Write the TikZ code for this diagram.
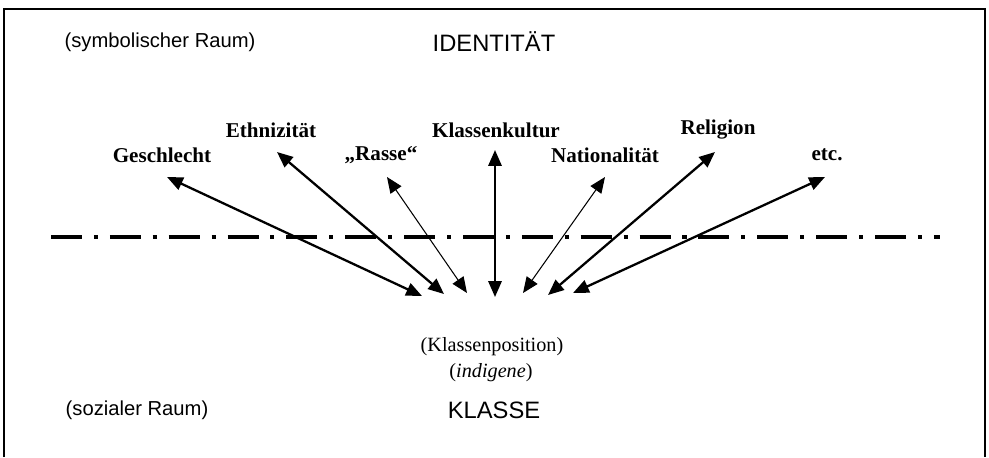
\documentclass[tikz,border=0pt]{standalone}
\usepackage{fontspec}
\setmainfont{Liberation Serif}
\newfontfamily\arialfont{Liberation Sans}
\usetikzlibrary{arrows.meta}

\tikzset{
  raum/.style={font=\arialfont\fontsize{11.5}{13}\selectfont, inner sep=0pt},
  ebene/.style={font=\arialfont\fontsize{13.5}{16}\selectfont, inner sep=0pt},
  dimension/.style={font=\bfseries\fontsize{12}{14}\selectfont, inner sep=0pt},
  bezug/.style={{Triangle[length=9pt,width=7.5pt]}-{Triangle[length=9pt,width=7.5pt]}, line width=1.3pt},
  bezugduenn/.style={bezug, line width=0.6pt},
}

\begin{document}
\begin{tikzpicture}[x=0.02cm, y=-0.02cm]
  \useasboundingbox (0,0) rectangle (989,457);
  \draw[line width=1.1pt] (4,457) -- (4,9) -- (985,9) -- (985,457);

  \node[raum] (symb) at (160,42) {(symbolischer Raum)};
  \node[ebene] (ident) at (494,42) {IDENTITÄT};
  \node[raum] (sozial) at (137,410) {(sozialer Raum)};
  \node[ebene] (klasse) at (494,410) {KLASSE};

  \node[dimension] (ethn) at (271,130) {Ethnizität};
  \node[dimension] (kultur) at (496,130) {Klassenkultur};
  \node[dimension] (rel) at (718,130) {Religion};
  \node[dimension] (geschl) at (162,155) {Geschlecht};
  \node[dimension] (rasse) at (381,155) {„Rasse“};
  \node[dimension] (nation) at (605,155) {Nationalität};
  \node[dimension] (etc) at (827,155) {etc.};

  \node[inner sep=0pt, font=\fontsize{11.5}{14}\selectfont] (pos) at (492,347) {(Klassenposition)};
  \node[inner sep=0pt, font=\fontsize{11.5}{14}\selectfont] (indig) at (491,373) {(\textit{indigene})};

  % Grenze zwischen symbolischem und sozialem Raum
  \draw[line width=2.3pt, dash pattern=on 17.6pt off 6.8pt on 2.3pt off 6.8pt] (51,237) -- (940,237);

  \coordinate (geschl-o) at (167,177);
  \coordinate (geschl-u) at (422,296);
  \coordinate (ethn-o) at (277,152);
  \coordinate (ethn-u) at (444,294);
  \coordinate (rasse-o) at (387,177);
  \coordinate (rasse-u) at (467,293);
  \coordinate (kultur-o) at (495,150);
  \coordinate (kultur-u) at (495,297);
  \coordinate (nation-o) at (605,177);
  \coordinate (nation-u) at (523,293);
  \coordinate (rel-o) at (715,152);
  \coordinate (rel-u) at (548,295);
  \coordinate (etc-o) at (825,177);
  \coordinate (etc-u) at (573,293);

  \draw[bezug] (geschl-o) -- (geschl-u);
  \draw[bezug] (ethn-o) -- (ethn-u);
  \draw[bezugduenn] (rasse-o) -- (rasse-u);
  \draw[bezug] (kultur-o) -- (kultur-u);
  \draw[bezugduenn] (nation-o) -- (nation-u);
  \draw[bezug] (rel-o) -- (rel-u);
  \draw[bezug] (etc-o) -- (etc-u);
\end{tikzpicture}
\end{document}
